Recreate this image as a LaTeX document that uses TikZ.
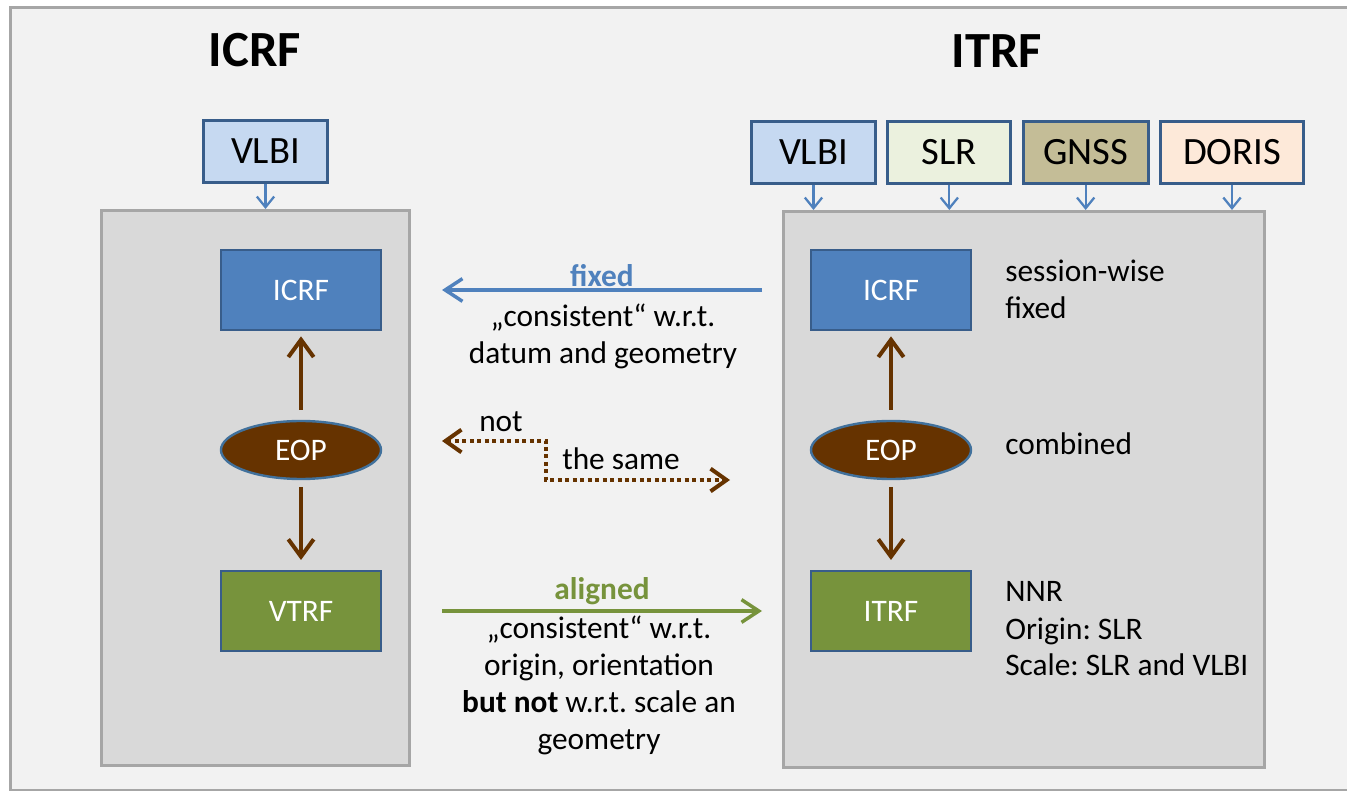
\documentclass[tikz,border=0pt]{standalone}
\usepackage{fontspec}
\setmainfont{Carlito}
\usepackage{tikz}
\usetikzlibrary{arrows.meta, positioning, shapes.geometric}
\usepackage{xcolor}
\frenchspacing

\definecolor{bgfill}{HTML}{F2F2F2}
\definecolor{framegray}{HTML}{A6A6A6}
\definecolor{panelfill}{HTML}{D9D9D9}
\definecolor{boxblue}{HTML}{385D8A}
\definecolor{icrfblue}{HTML}{4F81BD}
\definecolor{trfgreen}{HTML}{77933C}
\definecolor{eopbrown}{HTML}{663300}
\definecolor{eopedge}{HTML}{41719C}
\definecolor{vlbifill}{HTML}{C6D9F1}
\definecolor{slrfill}{HTML}{EBF1DE}
\definecolor{gnssfill}{HTML}{C4BD97}
\definecolor{dorisfill}{HTML}{FDE9D9}

\newcommand{\bodysize}{\fontsize{23.5pt}{27.75pt}\selectfont}
\newcommand{\srcsize}{\fontsize{29pt}{34pt}\selectfont}
\newcommand{\headsize}{\fontsize{38pt}{45pt}\selectfont}

\begin{document}
\begin{tikzpicture}[x=0.75pt,y=-0.75pt,node distance=7pt]
  \tikzstyle{title}=[font=\headsize\bfseries, anchor=base, inner sep=0pt]
  \tikzstyle{src}=[draw=boxblue, line width=2.25pt, minimum height=46.5pt, inner sep=0pt, font=\srcsize]
  \tikzstyle{panel}=[draw=framegray, fill=panelfill, line width=2.25pt]
  \tikzstyle{frame}=[draw=boxblue, line width=1.5pt, minimum width=120pt, minimum height=60pt, text=white, font=\bodysize]
  \tikzstyle{eop}=[ellipse, draw=eopedge, fill=eopbrown, line width=1.8pt, minimum width=120pt, minimum height=43.5pt, inner sep=0pt, text=white, font=\bodysize]
  \tikzstyle{note}=[font=\bodysize, align=left, anchor=base west, inner sep=0pt]
  \tikzstyle{midtext}=[font=\bodysize, align=center, inner sep=0pt]
  \tikzstyle{feed}=[draw=icrfblue, line width=1.7pt, -{Straight Barb[length=8pt,width=13pt]}]
  \tikzstyle{flow}=[draw=eopbrown, line width=3pt, -{Straight Barb[length=13pt,width=19pt]}]
  \tikzstyle{link}=[line width=2.6pt, -{Straight Barb[length=13pt,width=17pt]}]

  % background
  \useasboundingbox (0,0) rectangle (1347,791);
  \fill[white] (0,0) rectangle (1347,791);
  \fill[bgfill] (10,8) rectangle (1347,790);
  \draw[framegray, line width=2.25pt] (1347,8) -- (10,8) -- (10,790) -- (1347,790);

  % titles
  \node[title] (titleL) at (255,67) {ICRF};
  \node[title] (titleR) at (997,68) {ITRF};

  % panels
  \node[panel, minimum width=231pt, minimum height=416.25pt] (panelL) at (255.5,488) {};
  \node[panel, minimum width=360.75pt, minimum height=417pt] (panelR) at (1024,489.5) {};

  % techniques
  \node[src, fill=vlbifill, minimum width=93pt] (vlbiL) at (265.5,151.5) {VLBI};
  \node[src, fill=vlbifill, minimum width=93pt] (vlbiR) at (813.5,152.5) {VLBI};
  \node[src, fill=slrfill, minimum width=92.25pt, right=of vlbiR] (slr) {SLR};
  \node[src, fill=gnssfill, minimum width=93.75pt, right=of slr] (gnss) {GNSS};
  \node[src, fill=dorisfill, minimum width=107.25pt, right=of gnss] (doris) {DORIS};

  \draw[feed] (vlbiL.south) -- (vlbiL.south |- panelL.north);
  \foreach \s in {vlbiR, slr, gnss, doris}
    \draw[feed] (\s.south) -- (\s.south |- panelR.north);

  % left side
  \node[frame, fill=icrfblue] (icrfL) at (301,290) {ICRF};
  \node[eop]                 (eopL)  at (301,450) {EOP};
  \node[frame, fill=trfgreen] (vtrf) at (301,611) {VTRF};

  % right side
  \node[frame, fill=icrfblue] (icrfR) at (891,290) {ICRF};
  \node[eop]                 (eopR)  at (891,450) {EOP};
  \node[frame, fill=trfgreen] (itrf) at (891,611) {ITRF};

  \path[flow]
  (eopL) edge [shorten <=7.5pt, shorten >=4pt] (icrfL)
  (eopL) edge [shorten <=5pt, shorten >=7.5pt] (vtrf)
  (eopR) edge [shorten <=7.5pt, shorten >=4pt] (icrfR)
  (eopR) edge [shorten <=5pt, shorten >=7.5pt] (itrf)
  ;

  \node[note] (sessnote) at (1005,319) {session-wise\\fixed};
  \node[note] (combnote) at (1005,455) {combined};
  \node[note] (nnrnote)  at (1005,676) {NNR\\Origin: SLR\\Scale: SLR and VLBI};

  % between the two
  \coordinate (fixA) at (762,290);
  \coordinate (fixB) at (442,290);
  \draw[link, icrfblue] (fixA) -- node[above=1pt, font=\bodysize\bfseries, inner sep=0pt] (fixlbl) {fixed} (fixB);
  \node[midtext, anchor=north] (fixnote) at (603,304) {„consistent“ w.r.t.\\datum and geometry};

  \coordinate (nsA) at (442,441);
  \coordinate (nsK) at (546,480);
  \coordinate (nsB) at (730,480);
  \draw[eopbrown, line width=3pt, dash pattern=on 3pt off 2.6pt,
        {Straight Barb[length=12pt,width=17pt]}-{Straight Barb[length=12pt,width=17pt]}]
    (nsA) -| (nsK) -- (nsB);
  \node[font=\bodysize, anchor=base west, inner sep=0pt] (notlbl) at (479,432) {not};
  \node[font=\bodysize, anchor=base west, inner sep=0pt] (samelbl) at (562,470) {the same};

  \coordinate (alA) at (442,611);
  \coordinate (alB) at (762,611);
  \draw[link, trfgreen] (alA) -- node[above=3pt, font=\bodysize\bfseries, inner sep=0pt] (allbl) {aligned} (alB);
  \node[midtext, anchor=north] (alnote) at (599,616) {„consistent“ w.r.t.\\origin, orientation\\{\bfseries but not} w.r.t. scale an\\geometry};
\end{tikzpicture}
\end{document}
